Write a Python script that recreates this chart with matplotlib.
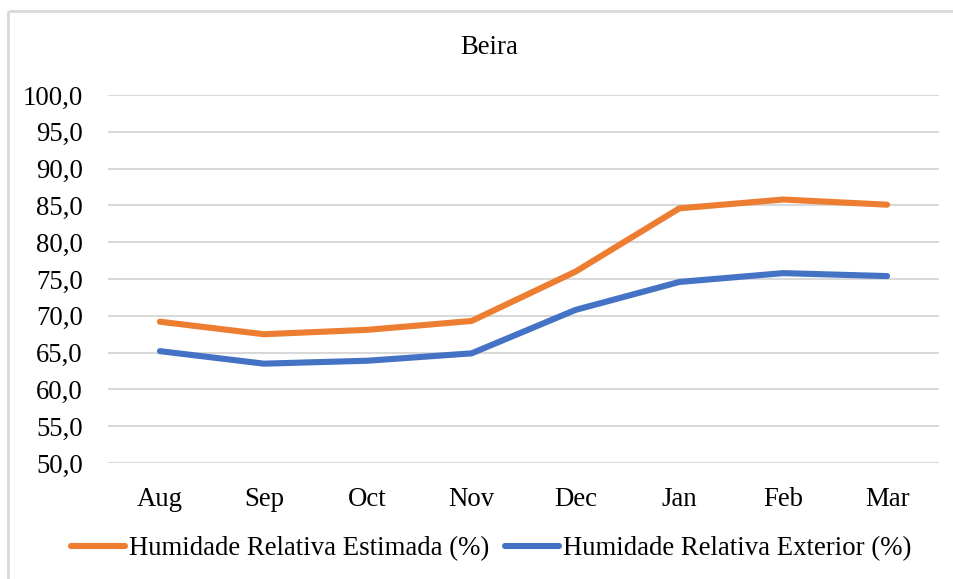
import matplotlib.pyplot as plt
from matplotlib.lines import Line2D

# Données
months = ['Aug', 'Sep', 'Oct', 'Nov', 'Dec', 'Jan', 'Feb', 'Mar']
hr_estimada = [69.2, 67.5, 68.1, 69.3, 76.0, 84.6, 85.8, 85.1]
hr_exterior = [65.2, 63.5, 63.9, 64.9, 70.8, 74.6, 75.8, 75.4]
y_ticks = [50, 55, 60, 65, 70, 75, 80, 85, 90, 95, 100]

plt.rcParams['font.family'] = ['Liberation Serif', 'DejaVu Serif']
fs = 19.3

fig = plt.figure(figsize=(9.54, 5.79), dpi=100)
fig.patch.set_linewidth(0)
ax = fig.add_axes([0.1132, 0.2003, 0.8711, 0.6356])

# Cadre du graphique (bords gauche et haut visibles seulement)
x0, y0 = 8 / 954, 1 - 11 / 579
fig.add_artist(Line2D([x0, x0], [0, y0], transform=fig.transFigure,
                      color='#D9D9D9', linewidth=2, solid_capstyle='butt'))
fig.add_artist(Line2D([x0, 1], [y0, y0], transform=fig.transFigure,
                      color='#D9D9D9', linewidth=2, solid_capstyle='butt'))

x = range(len(months))
ax.plot(x, hr_estimada, color='#ED7D31', linewidth=4.4, solid_capstyle='round',
        label='Humidade Relativa Estimada (%)')
ax.plot(x, hr_exterior, color='#4472C4', linewidth=4.4, solid_capstyle='round',
        label='Humidade Relativa Exterior (%)')

ax.set_xlim(-0.5, len(months) - 0.5)
ax.set_ylim(50, 100)
ax.set_xticks(list(x))
ax.set_xticklabels(months)
ax.set_yticks(y_ticks)
ax.set_yticklabels([f'{v:.1f}'.replace('.', ',') for v in y_ticks])
ax.tick_params(axis='both', length=0, labelsize=fs, colors='black')
ax.tick_params(axis='y', pad=18)
ax.tick_params(axis='x', pad=17)

ax.grid(axis='y', color='#D9D9D9', linewidth=1.5)
ax.set_axisbelow(True)
for s in ax.spines.values():
    s.set_visible(False)

fig.text(0.513, 1 - 47 / 579, 'Beira', ha='center', va='center', fontsize=fs)

fig.legend(loc='center', bbox_to_anchor=(0.515, 1 - 549 / 579), ncol=2,
           frameon=False, fontsize=fs, handlelength=2.0, handletextpad=0.15,
           columnspacing=0.6)

fig.savefig('out.png', dpi=100)
